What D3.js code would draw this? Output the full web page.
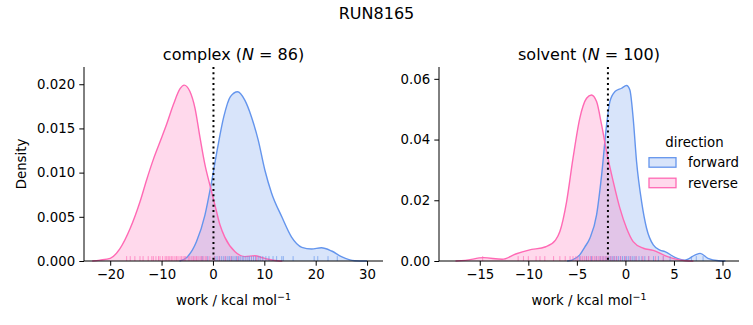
<!DOCTYPE html>
<html><head><meta charset="utf-8">
<script src="https://cdn.jsdelivr.net/npm/d3@7"></script>
<style>body{margin:0;background:#fff}svg{display:block}text{font-family:"DejaVu Sans",sans-serif;fill:#000}</style>
</head><body><svg id="c" width="753" height="325"></svg>
<script>
// ---- data ----
const directions = ["forward", "reverse"];
const colors = {forward: "#6495ED", reverse: "#FF69B4"};

const complexForwardCurve = [[-6.5,0],[-5.1,0.0004],[-3.2,0.0022],[-1.56,0.0052],[-0.25,0.009],[0.9,0.0128],[2.1,0.0163],[3.4,0.0186],[4.8,0.01915],[6.2,0.0182],[7.5,0.0163],[8.8,0.0137],[10.1,0.0103],[11.4,0.0077],[13.4,0.005],[15.3,0.0027],[17.3,0.00155],[19.2,0.00136],[21.1,0.0015],[23.1,0.00113],[25,0.0005],[27.6,0.00003],[30,0]];
const complexReverseCurve = [[-23.5,0],[-22,0.0001],[-20,0.0003],[-18.1,0.0014],[-16.1,0.0037],[-14.2,0.0067],[-12.9,0.0092],[-11.6,0.0115],[-10.3,0.0135],[-9.0,0.0155],[-7.7,0.0177],[-6.4,0.0195],[-5.6,0.0199],[-4.5,0.0192],[-3.5,0.0173],[-2.5,0.0139],[-1.56,0.0109],[-0.6,0.0086],[0.4,0.0063],[1.36,0.0041],[2.3,0.0027],[4.3,0.00105],[6.2,0.0005],[8.2,0.0006],[9.5,0.0004],[10.8,0.0002],[12.5,0.00003],[13.5,0]];
const solventForwardCurve = [[-6,0],[-5.5,0.0003],[-4.7,0.002],[-4.2,0.0045],[-3.66,0.0075],[-2.97,0.0152],[-2.45,0.0283],[-1.94,0.0448],[-1.6,0.0525],[-1.08,0.0558],[-0.4,0.0569],[0.12,0.0578],[0.46,0.0563],[0.8,0.047],[1.15,0.0327],[1.67,0.0195],[2.18,0.0108],[2.87,0.0053],[3.56,0.0036],[4.07,0.0031],[5.1,0.0012],[6.1,0.0003],[7.2,0.002],[7.7,0.0025],[8.5,0.0009],[9.6,0.0001],[10.3,0]];
const solventReverseCurve = [[-17.5,0],[-16.5,0.0002],[-14.6,0.0011],[-12.7,0.00056],[-11.3,0.0023],[-9.95,0.0036],[-8.2,0.0047],[-7.2,0.0069],[-6.75,0.0097],[-6.06,0.0195],[-5.4,0.0338],[-4.7,0.047],[-4.0,0.0536],[-3.5,0.0547],[-2.97,0.0525],[-2.45,0.0448],[-1.94,0.036],[-1.25,0.0261],[-0.57,0.0174],[0.12,0.0108],[0.8,0.0064],[1.84,0.0042],[2.87,0.0035],[4.07,0.0018],[5.1,0.0007],[6.2,0.0001],[7,0]];

const complexForwardRug = [-2.1,-1.0,0.4,0.8,1.3,1.7,2.1,2.5,2.9,3.2,3.6,3.9,4.3,4.6,5.0,5.3,5.7,6.0,6.4,6.8,7.1,7.5,7.9,8.3,8.8,9.2,9.7,10.3,10.9,11.7,12.4,13.4,13.7,15.6,19.7,20.4,22.4,24.2];
const complexReverseRug = [-16.8,-16.1,-15.2,-14.2,-13.6,-12.6,-11.9,-11.6,-11.1,-10.6,-10.3,-9.8,-9.3,-9.0,-8.7,-8.4,-8.1,-7.8,-7.4,-7.1,-6.8,-6.4,-6.1,-5.8,-5.5,-5.3,-4.8,-4.5,-4.1,-3.8,-3.5,-3.2,-2.9,-2.5,-2.2,-1.9,-1.5,-1.2,-0.6,0.3,1.2,2.4,3.5,4.8,8.5];
const solventForwardRug = [-4.7,-4.0,-3.5,-3.0,-2.6,-2.3,-2.0,-1.7,-1.5,-1.3,-1.1,-0.9,-0.7,-0.5,-0.3,-0.1,0.1,0.3,0.5,0.7,0.9,1.1,1.4,1.7,2.0,2.4,2.9,3.4,3.9,4.6,6.8,7.3,8.0];
const solventReverseRug = [-14.7,-11.05,-10.5,-10.0,-9.2,-8.8,-8.3,-7.4,-6.75,-6.2,-5.7,-5.4,-5.1,-4.9,-4.6,-4.4,-4.2,-4.0,-3.8,-3.6,-3.4,-3.2,-3.0,-2.8,-2.6,-2.4,-2.2,-2.0,-1.8,-1.5,-1.2,-0.9,-0.5,0.0,0.5,1.1,1.8,2.4,3.1,3.9];

const complexXTicks = [-20,-10,0,10,20,30];
const complexYTicks = [0,0.005,0.010,0.015,0.020];
const solventXTicks = [-15,-10,-5,0,5,10];
const solventYTicks = [0,0.02,0.04,0.06];
const complexMarker = 0.1, solventMarker = -1.8;

const panels = [
  {name:"complex", n:86, left:84, right:383, xdom:[-25.1,33.1], ydom:[0,0.02195], xticks:complexXTicks, yticks:complexYTicks, yfmt:d3.format(".3f"),
   curves:{forward:complexForwardCurve, reverse:complexReverseCurve}, rugs:{forward:complexForwardRug, reverse:complexReverseRug}, marker:complexMarker, ylabel:true},
  {name:"solvent", n:100, left:439, right:739, xdom:[-19.2,11.7], ydom:[0,0.0639], xticks:solventXTicks, yticks:solventYTicks, yfmt:d3.format(".2f"),
   curves:{forward:solventForwardCurve, reverse:solventReverseCurve}, rugs:{forward:solventForwardRug, reverse:solventReverseRug}, marker:solventMarker, ylabel:false}
];

const svg = d3.select("#c");
const topY = 67, bottomY = 261;
const FS = 13.3;

svg.append("text").attr("x",376.5).attr("y",18.5).attr("text-anchor","middle").attr("font-size",16).text("RUN8165");

panels.forEach(p => {
  const x = d3.scaleLinear().domain(p.xdom).range([p.left, p.right]);
  const y = d3.scaleLinear().domain(p.ydom).range([bottomY, topY]);
  const g = svg.append("g");
  const area = d3.area().x(d=>x(d[0])).y0(y(0)).y1(d=>y(d[1])).curve(d3.curveMonotoneX);
  const line = d3.line().x(d=>x(d[0])).y(d=>y(d[1])).curve(d3.curveMonotoneX);
  directions.forEach(dir => {
    g.append("path").datum(p.curves[dir]).attr("d",area).attr("fill",colors[dir]).attr("fill-opacity",0.25);
  });
  directions.forEach(dir => {
    g.append("path").datum(p.curves[dir]).attr("d",line).attr("fill","none").attr("stroke",colors[dir]).attr("stroke-width",1.4);
  });
  directions.forEach(dir => {
    g.selectAll(null).data(p.rugs[dir]).enter().append("line")
      .attr("x1",d=>x(d)).attr("x2",d=>x(d)).attr("y1",bottomY).attr("y2",bottomY-4.9)
      .attr("stroke",colors[dir]).attr("stroke-opacity",0.65).attr("stroke-width",1);
  });
  g.append("line").attr("x1",x(p.marker)).attr("x2",x(p.marker)).attr("y1",topY).attr("y2",bottomY)
    .attr("stroke","#000").attr("stroke-width",2).attr("stroke-dasharray","2,3.3");
  const xa = g.append("g").attr("transform",`translate(0,${bottomY})`)
    .call(d3.axisBottom(x).tickValues(p.xticks).tickSize(4.7).tickPadding(4.2).tickFormat(d=>d3.format("d")(d).replace("-","\u2212")));
  const ya = g.append("g").attr("transform",`translate(${p.left},0)`)
    .call(d3.axisLeft(y).tickValues(p.yticks).tickSize(4.7).tickPadding(4.2).tickFormat(p.yfmt));
  [xa,ya].forEach(a => {
    a.select(".domain").remove();
    a.selectAll(".tick line").attr("stroke","#000").attr("stroke-width",1);
    a.selectAll(".tick text").attr("font-size",FS).attr("font-family","DejaVu Sans").attr("fill","#000");
  });
  g.append("line").attr("x1",p.left).attr("x2",p.right).attr("y1",bottomY).attr("y2",bottomY).attr("stroke","#000");
  g.append("line").attr("x1",p.left).attr("x2",p.left).attr("y1",topY).attr("y2",bottomY).attr("stroke","#000");

  const cx = (p.left+p.right)/2;
  const t = svg.append("text").attr("x",cx).attr("y",59.5).attr("text-anchor","middle").attr("font-size",16);
  t.append("tspan").text(p.name+" (");
  t.append("tspan").attr("font-style","italic").text("N");
  t.append("tspan").text(" = "+p.n+")");

  const xl = svg.append("text").attr("x",cx).attr("y",305).attr("text-anchor","middle").attr("font-size",FS);
  xl.append("tspan").text("work / kcal mol");
  xl.append("tspan").attr("dy",-5).attr("font-size",9.5).text("\u22121");

  if (p.ylabel) {
    svg.append("text").attr("transform",`translate(26,${(topY+bottomY)/2}) rotate(-90)`).attr("text-anchor","middle").attr("font-size",FS).text("Density");
  }
});

const lg = svg.append("g");
lg.append("text").attr("x",694.5).attr("y",146.5).attr("text-anchor","middle").attr("font-size",FS).text("direction");
directions.forEach((dir,i) => {
  const yy = 157.7 + i*20.5;
  lg.append("rect").attr("x",649).attr("y",yy).attr("width",27).attr("height",9.5)
    .attr("fill",colors[dir]).attr("fill-opacity",0.25).attr("stroke",colors[dir]).attr("stroke-width",1.3);
  lg.append("text").attr("x",688).attr("y",yy+9.5).attr("font-size",FS).text(dir);
});
</script></body></html>
